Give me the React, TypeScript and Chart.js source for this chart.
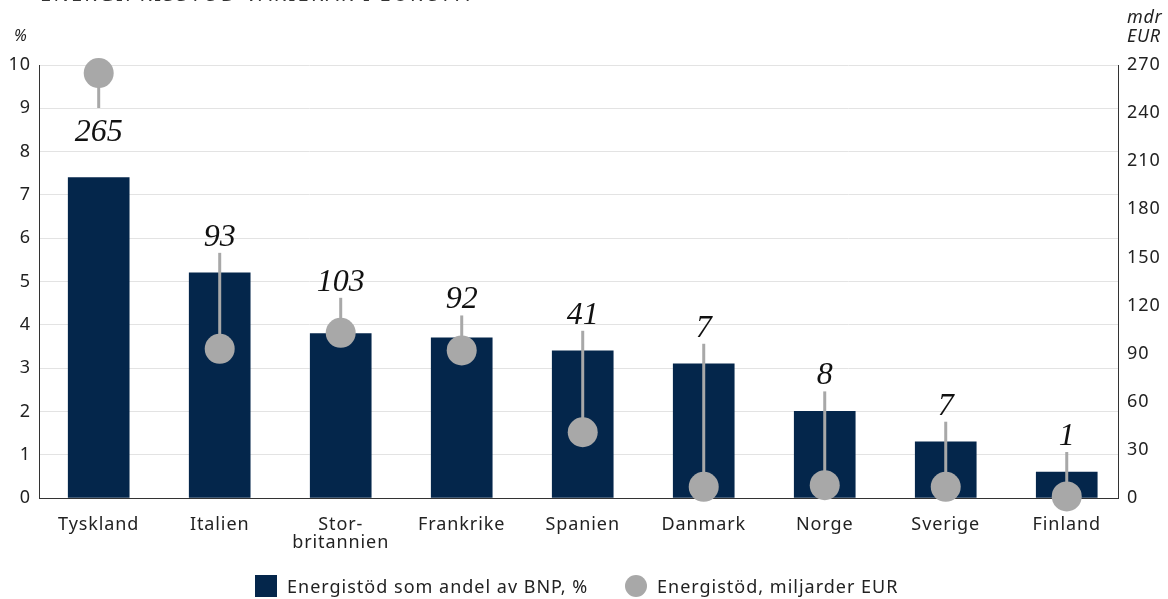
import React, { useEffect, useRef } from 'react';
import { Chart, registerables } from 'chart.js';

Chart.register(...registerables);

const titleText = 'ENERGIPRISSTÖD VARIERAR I EUROPA';
const categories = ['Tyskland', 'Italien', 'Stor-\nbritannien', 'Frankrike', 'Spanien', 'Danmark', 'Norge', 'Sverige', 'Finland'];
const shareOfGdp = [7.4, 5.2, 3.8, 3.7, 3.4, 3.1, 2.0, 1.3, 0.6];
const supportBnEur = [265, 93, 103, 92, 41, 7, 8, 7, 1];
const leftAxis = { min: 0, max: 10, step: 1, unit: '%' };
const rightAxis = { min: 0, max: 270, step: 30, unit: ['mdr', 'EUR'] };
const legendLabels = ['Energistöd som andel av BNP, %', 'Energistöd, miljarder EUR'];

const NAVY = '#04264b';
const GREY = '#a8a8a8';
const SANS = '"Noto Sans", "Open Sans", sans-serif';

const spacingPlugin = {
  id: 'spacing',
  beforeLayout(chart: any) {
    chart.ctx.letterSpacing = '0.9px';
  },
  beforeDraw(chart: any) {
    chart.ctx.letterSpacing = '0.9px';
  },
};

const stemPlugin = {
  id: 'stems',
  afterDatasetDraw(chart: any, args: any) {
    if (args.index !== 0) return;
    const { ctx } = chart;
    const xs = chart.scales.x;
    const yl = chart.scales.y;
    const yr = chart.scales.y1;
    const r = 15;
    ctx.save();
    ctx.letterSpacing = '0px';
    ctx.strokeStyle = GREY;
    ctx.lineWidth = 3;
    ctx.fillStyle = '#111';
    ctx.font = 'italic 32px "Liberation Serif", "DejaVu Serif", serif';
    ctx.textAlign = 'center';
    ctx.textBaseline = 'alphabetic';
    categories.forEach((_, i) => {
      const x = xs.getPixelForValue(i);
      const barTop = yl.getPixelForValue(shareOfGdp[i]);
      const dotY = yr.getPixelForValue(supportBnEur[i]);
      let y0: number, y1: number, base: number;
      if (dotY + r < barTop - 60) {
        y0 = dotY;
        y1 = dotY + 35;
        base = y1 + 33;
      } else {
        y1 = Math.min(barTop, dotY - r) - 20;
        y0 = dotY;
        base = y1 - 7;
      }
      ctx.beginPath();
      ctx.moveTo(x, y0);
      ctx.lineTo(x, y1);
      ctx.stroke();
      ctx.fillText(String(supportBnEur[i]), x, base);
    });
    ctx.restore();
  },
};

export default function App() {
  const ref = useRef<HTMLCanvasElement>(null);
  useEffect(() => {
    document.body.style.margin = '0';
    const chart = new Chart(ref.current as HTMLCanvasElement, {
      type: 'bar',
      data: {
        datasets: [
          {
            type: 'bar',
            label: legendLabels[0],
            data: shareOfGdp.map((v, i) => ({ x: i, y: v })),
            backgroundColor: NAVY,
            barThickness: 61,
            yAxisID: 'y',
            order: 2,
          } as any,
          {
            type: 'line',
            label: legendLabels[1],
            data: supportBnEur.map((v, i) => ({ x: i, y: v })),
            showLine: false,
            pointRadius: 15,
            pointHoverRadius: 15,
            pointBackgroundColor: GREY,
            pointBorderWidth: 0,
            pointBorderColor: GREY,
            yAxisID: 'y1',
            order: 1,
            clip: false,
          } as any,
        ],
      },
      options: {
        animation: false,
        responsive: false,
        maintainAspectRatio: false,
        layout: { padding: { top: 65, left: 0, right: 0, bottom: 0 } },
        plugins: { legend: { display: false }, tooltip: { enabled: false } },
        scales: {
          x: {
            type: 'linear',
            offset: false,
            min: -0.4934,
            max: 8.4236,
            grid: { display: false, drawTicks: false, offset: false },
            border: { display: true, color: '#333', width: 1 },
            afterFit: (s: any) => { s.height = 101; },
            afterBuildTicks: (s: any) => { s.ticks = categories.map((_, i) => ({ value: i })); },
            ticks: {
              autoSkip: false,
              maxRotation: 0,
              padding: 17,
              color: '#222',
              font: { family: SANS, size: 18, lineHeight: 1.05 },
              callback: (v: any) => {
                const c = categories[Math.round(Number(v))];
                return c ? c.split('\n') : '';
              },
            },
          },
          y: {
            position: 'left',
            min: leftAxis.min,
            max: leftAxis.max,
            grid: { color: '#e3e3e3', lineWidth: 1, drawTicks: false },
            border: { display: true, color: '#333', width: 1 },
            afterFit: (s: any) => { s.width = 39; },
            ticks: {
              stepSize: leftAxis.step,
              padding: 8,
              color: '#222',
              font: { family: SANS, size: 18 },
            },
          },
          y1: {
            position: 'right',
            min: rightAxis.min,
            max: rightAxis.max,
            grid: { display: false, drawTicks: false },
            border: { display: true, color: '#333', width: 1 },
            afterFit: (s: any) => { s.width = 50; },
            ticks: {
              stepSize: rightAxis.step,
              padding: 9,
              color: '#222',
              font: { family: SANS, size: 18 },
            },
          },
        },
      },
      plugins: [spacingPlugin, stemPlugin],
    } as any);
    return () => chart.destroy();
  }, []);

  const textStyle: React.CSSProperties = { position: 'absolute', fontFamily: SANS, color: '#222', whiteSpace: 'nowrap' };

  return (
    <div style={{ position: 'absolute', left: 0, top: 0, width: 1168, height: 599, overflow: 'hidden', background: '#fff' }}>
      <canvas ref={ref} width={1168} height={599} style={{ position: 'absolute', left: 0, top: 0, width: 1168, height: 599 }} />
      <div style={{ ...textStyle, left: 40, top: -16, fontSize: 20, lineHeight: '20px', letterSpacing: '2.3px', color: '#333' }}>{titleText}</div>
      <div style={{ ...textStyle, left: 14, top: 25, fontSize: 16, fontStyle: 'italic', lineHeight: '20px' }}>{leftAxis.unit}</div>
      <div style={{ ...textStyle, left: 1127, top: 7, fontSize: 18, fontStyle: 'italic', lineHeight: '19px', letterSpacing: '0.7px' }}>
        {rightAxis.unit[0]}<br />{rightAxis.unit[1]}
      </div>
      <span style={{ position: 'absolute', left: 255, top: 575, width: 22, height: 22, background: NAVY }} />
      <div style={{ ...textStyle, left: 287, top: 575, fontSize: 18, lineHeight: '22px', letterSpacing: '1px' }}>{legendLabels[0]}</div>
      <span style={{ position: 'absolute', left: 625, top: 575, width: 22, height: 22, borderRadius: 11, background: GREY }} />
      <div style={{ ...textStyle, left: 657, top: 575, fontSize: 18, lineHeight: '22px', letterSpacing: '1px' }}>{legendLabels[1]}</div>
    </div>
  );
}
